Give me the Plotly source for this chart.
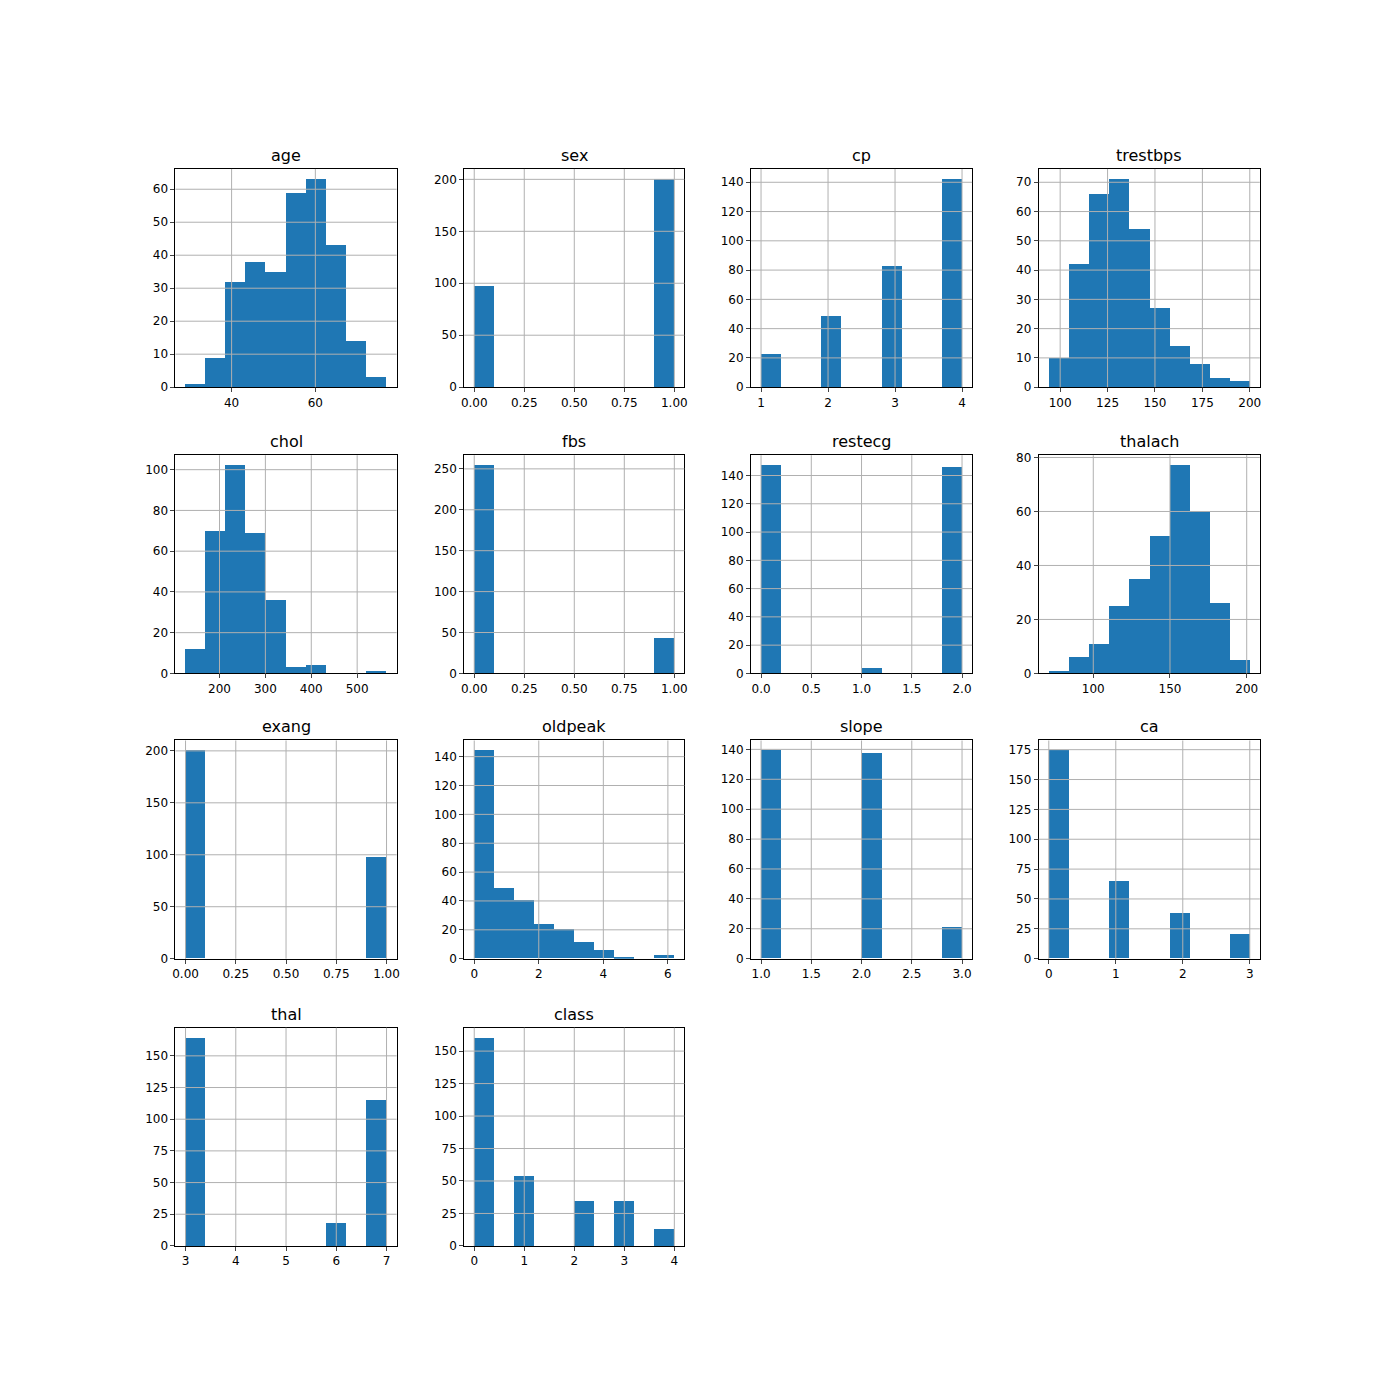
import numpy as np
import plotly.graph_objects as go

names = ["age","sex","cp","trestbps","chol","fbs","restecg","thalach",
         "exang","oldpeak","slope","ca","thal","class"]
mins = [29,0,1,94,126,0,0,71,0,0.0,1,0,3,0]
maxs = [77,1,4,200,564,1,2,202,1,6.2,3,3,7,4]
counts = [
    [1,9,32,38,35,59,63,43,14,3],
    [97,0,0,0,0,0,0,0,0,200],
    [23,0,0,49,0,0,83,0,0,142],
    [10,42,66,71,54,27,14,8,3,2],
    [12,70,102,69,36,3,4,0,0,1],
    [254,0,0,0,0,0,0,0,0,43],
    [147,0,0,0,0,4,0,0,0,146],
    [1,6,11,25,35,51,77,60,26,5],
    [200,0,0,0,0,0,0,0,0,97],
    [144,49,40,24,20,11,6,1,0,2],
    [139,0,0,0,0,137,0,0,0,21],
    [174,0,0,65,0,0,38,0,0,20],
    [164,0,0,0,0,0,0,18,0,115],
    [160,0,54,0,0,35,0,35,0,13],
]
xticks = [
    [40,60],[0,0.25,0.5,0.75,1.0],[1,2,3,4],[100,125,150,175,200],
    [200,300,400,500],[0,0.25,0.5,0.75,1.0],[0,0.5,1.0,1.5,2.0],[100,150,200],
    [0,0.25,0.5,0.75,1.0],[0,2,4,6],[1.0,1.5,2.0,2.5,3.0],[0,1,2,3],
    [3,4,5,6,7],[0,1,2,3,4],
]
xticktext = [
    ["40","60"],["0.00","0.25","0.50","0.75","1.00"],["1","2","3","4"],["100","125","150","175","200"],
    ["200","300","400","500"],["0.00","0.25","0.50","0.75","1.00"],["0.0","0.5","1.0","1.5","2.0"],["100","150","200"],
    ["0.00","0.25","0.50","0.75","1.00"],["0","2","4","6"],["1.0","1.5","2.0","2.5","3.0"],["0","1","2","3"],
    ["3","4","5","6","7"],["0","1","2","3","4"],
]
yticks = [
    [0,10,20,30,40,50,60],[0,50,100,150,200],[0,20,40,60,80,100,120,140],[0,10,20,30,40,50,60,70],
    [0,20,40,60,80,100],[0,50,100,150,200,250],[0,20,40,60,80,100,120,140],[0,20,40,60,80],
    [0,50,100,150,200],[0,20,40,60,80,100,120,140],[0,20,40,60,80,100,120,140],[0,25,50,75,100,125,150,175],
    [0,25,50,75,100,125,150],[0,25,50,75,100,125,150],
]

dx = [-0.007, -0.007+2/1400, -0.007+3/1400, -0.007+4/1400]
dy = [0.007, 0.007-2.5/1400, 0.007-4/1400, 0.007-7.5/1400]
xb = [(0.125,0.2836),(0.3307,0.4886),(0.5357,0.6943),(0.7414,0.9)]
yb = [(0.7229,0.88),(0.5186,0.6757),(0.3143,0.4714),(0.11,0.2671)]
xd = [(a+d, b+d) for (a, b), d in zip(xb, dx)]
yd = [(a+d, b+d) for (a, b), d in zip(yb, dy)]

fig = go.Figure()
ann = []
shapes = []
gc = "#b0b0b0"
for i, nm in enumerate(names):
    r, c = divmod(i, 4)
    k = i + 1
    edges = np.linspace(mins[i], maxs[i], 11)
    w = edges[1] - edges[0]
    cen = (edges[:-1] + edges[1:]) / 2
    cnt = np.array(counts[i])
    m = cnt > 0
    xa = "x" if k == 1 else f"x{k}"
    ya = "y" if k == 1 else f"y{k}"
    fig.add_trace(go.Bar(x=cen[m], y=cnt[m], width=w, marker=dict(color="#1f77b4", line=dict(width=0)),
                         xaxis=xa, yaxis=ya, showlegend=False))
    span = maxs[i] - mins[i]
    ax = dict(domain=xd[c], range=[mins[i]-0.05*span, maxs[i]+0.05*span], anchor=ya,
              tickvals=xticks[i], ticktext=xticktext[i], showgrid=False,
              showline=True, linecolor="black", linewidth=1, mirror=True,
              ticks="outside", ticklen=4, zeroline=False, layer="above traces",
              tickfont=dict(family="DejaVu Sans", size=12, color="black"))
    ay = dict(domain=yd[r], range=[0, cnt.max()*1.05], anchor=xa,
              tickvals=yticks[i], showgrid=False,
              showline=True, linecolor="black", linewidth=1, mirror=True,
              ticks="outside", ticklen=4, zeroline=False, layer="above traces",
              tickfont=dict(family="DejaVu Sans", size=12, color="black"))
    fig.layout[("xaxis" if k == 1 else f"xaxis{k}")] = ax
    fig.layout[("yaxis" if k == 1 else f"yaxis{k}")] = ay
    for t in xticks[i]:
        shapes.append(dict(type="line", xref=xa, yref=f"{ya} domain", x0=t, x1=t, y0=0, y1=1,
                           line=dict(color=gc, width=1), layer="above"))
    for t in yticks[i]:
        if t == 0:
            continue
        shapes.append(dict(type="line", xref=f"{xa} domain", yref=ya, x0=0, x1=1, y0=t, y1=t,
                           line=dict(color=gc, width=1), layer="above"))
    ann.append(dict(text=nm, x=(xd[c][0]+xd[c][1])/2, y=yd[r][1], xref="paper", yref="paper",
                    xanchor="center", yanchor="bottom", yshift=2, showarrow=False,
                    font=dict(family="DejaVu Sans", size=16, color="black")))

fig.update_layout(width=1400, height=1400, margin=dict(l=0, r=0, t=0, b=0),
                  plot_bgcolor="white", paper_bgcolor="white", annotations=ann, shapes=shapes, bargap=0)
fig.write_html("out.html")
